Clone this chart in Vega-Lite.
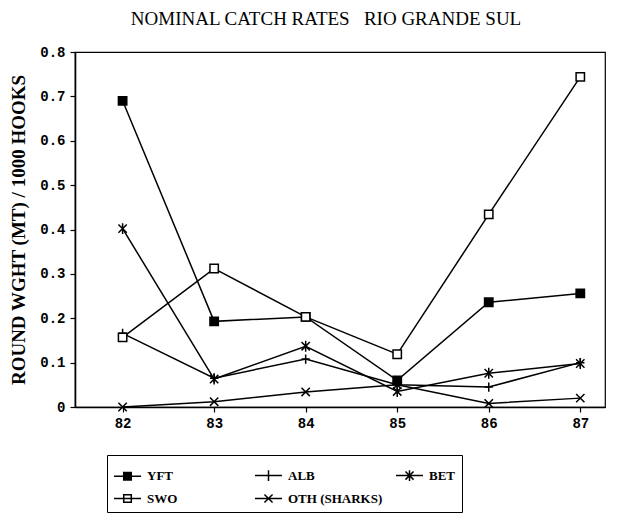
{
  "$schema": "https://vega.github.io/schema/vega-lite/v6.json",
  "autosize": "none",
  "width": 530,
  "height": 355,
  "padding": {"left": 75, "top": 52, "right": 19, "bottom": 117},
  "background": "white",
  "title": {
    "text": "NOMINAL CATCH RATES\u00a0\u00a0\u00a0RIO GRANDE SUL",
    "font": "Liberation Serif",
    "fontSize": 19,
    "fontWeight": "normal",
    "color": "black",
    "offset": 16,
    "dx": -14,
    "anchor": "middle"
  },
  "config": {
    "view": {"stroke": "black", "strokeWidth": 1.2},
    "axis": {
      "domainColor": "black",
      "domainWidth": 1.6,
      "tickColor": "black",
      "tickWidth": 1.2,
      "tickSize": 5,
      "grid": false,
      "labelFont": "Liberation Mono",
      "labelFontWeight": "bold",
      "labelFontSize": 14,
      "labelColor": "black",
      "titleFont": "Liberation Serif",
      "titleFontWeight": "bold",
      "titleFontSize": 19,
      "titleColor": "black"
    }
  },
  "data": {
    "values": [
      {"year": 82, "series": "YFT", "value": 0.69},
      {"year": 83, "series": "YFT", "value": 0.193},
      {"year": 84, "series": "YFT", "value": 0.203},
      {"year": 85, "series": "YFT", "value": 0.06},
      {"year": 86, "series": "YFT", "value": 0.236},
      {"year": 87, "series": "YFT", "value": 0.256},
      {"year": 82, "series": "ALB", "value": 0.166},
      {"year": 83, "series": "ALB", "value": 0.065},
      {"year": 84, "series": "ALB", "value": 0.108},
      {"year": 85, "series": "ALB", "value": 0.05},
      {"year": 86, "series": "ALB", "value": 0.045},
      {"year": 87, "series": "ALB", "value": 0.1},
      {"year": 82, "series": "BET", "value": 0.402},
      {"year": 83, "series": "BET", "value": 0.063},
      {"year": 84, "series": "BET", "value": 0.137},
      {"year": 85, "series": "BET", "value": 0.035},
      {"year": 86, "series": "BET", "value": 0.076},
      {"year": 87, "series": "BET", "value": 0.098},
      {"year": 82, "series": "SWO", "value": 0.157},
      {"year": 83, "series": "SWO", "value": 0.312},
      {"year": 84, "series": "SWO", "value": 0.203},
      {"year": 85, "series": "SWO", "value": 0.119},
      {"year": 86, "series": "SWO", "value": 0.434},
      {"year": 87, "series": "SWO", "value": 0.744},
      {"year": 82, "series": "OTH (SHARKS)", "value": 0.0},
      {"year": 83, "series": "OTH (SHARKS)", "value": 0.012},
      {"year": 84, "series": "OTH (SHARKS)", "value": 0.034},
      {"year": 85, "series": "OTH (SHARKS)", "value": 0.05},
      {"year": 86, "series": "OTH (SHARKS)", "value": 0.008},
      {"year": 87, "series": "OTH (SHARKS)", "value": 0.02}
    ]
  },
  "encoding": {
    "x": {
      "field": "year",
      "type": "quantitative",
      "scale": {"domain": [81.48, 87.27], "nice": false, "zero": false},
      "axis": {"values": [82, 83, 84, 85, 86, 87], "format": "d", "title": null, "labelPadding": 4}
    },
    "y": {
      "field": "value",
      "type": "quantitative",
      "scale": {"domain": [0, 0.8], "nice": false},
      "axis": {
        "values": [0, 0.1, 0.2, 0.3, 0.4, 0.5, 0.6, 0.7, 0.8],
        "labelExpr": "datum.value == 0 ? '0' : format(datum.value, '.1f')",
        "title": "ROUND WGHT (MT) / 1000 HOOKS",
        "titlePadding": 11,
        "labelPadding": 5
      }
    }
  },
  "layer": [
    {
      "mark": {"type": "line", "color": "black", "strokeWidth": 1.5},
      "encoding": {"detail": {"field": "series"}}
    },
    {
      "mark": {"type": "point", "filled": true, "stroke": "black", "strokeWidth": 1.5, "size": 70, "opacity": 1},
      "encoding": {
        "shape": {
          "field": "series",
          "scale": {
            "domain": ["YFT", "ALB", "BET", "SWO", "OTH (SHARKS)"],
            "range": [
              "M-1,-1H1V1H-1Z",
              "M-1,0H1M0,-1.1V1.1",
              "M-1,-1L1,1M-1,1L1,-1M0,-1.3V1.3",
              "M-1,-1H1V1H-1Z",
              "M-1,-1L1,1M-1,1L1,-1"
            ]
          },
          "legend": null
        },
        "fill": {
          "field": "series",
          "scale": {
            "domain": ["YFT", "ALB", "BET", "SWO", "OTH (SHARKS)"],
            "range": ["black", "black", "black", "white", "black"]
          },
          "legend": null
        }
      }
    },
    {
      "mark": {"type": "point", "filled": true, "strokeWidth": 1.5, "opacity": 0},
      "encoding": {
        "shape": {
          "field": "series",
          "scale": {
            "domain": ["YFT", "ALB", "BET", "SWO", "OTH (SHARKS)"],
            "range": [
              "M-1,0H1M-0.28,-0.28H0.28V0.28H-0.28Z",
              "M-1,0H1M0,-0.4V0.4",
              "M-1,0H1M-0.3,-0.3L0.3,0.3M-0.3,0.3L0.3,-0.3M0,-0.4V0.4",
              "M-1,0H1M-0.28,-0.28H0.28V0.28H-0.28Z",
              "M-1,0H1M-0.3,-0.3L0.3,0.3M-0.3,0.3L0.3,-0.3"
            ]
          },
          "legend": {
            "title": null,
            "orient": "none",
            "legendX": 32,
            "legendY": 403,
            "direction": "horizontal",
            "columns": 3,
            "gridAlign": "all",
            "columnPadding": 10,
            "rowPadding": 0,
            "padding": 6,
            "strokeColor": "black",
            "symbolSize": 729,
            "symbolStrokeWidth": 1.5,
            "symbolFillColor": "black",
            "symbolStrokeColor": "black",
            "labelFont": "Liberation Serif",
            "labelFontWeight": "bold",
            "labelFontSize": 13,
            "labelColor": "black",
            "labelOffset": 5,
            "labelLimit": 200
          }
        },
        "fill": {
          "field": "series",
          "scale": {
            "domain": ["YFT", "ALB", "BET", "SWO", "OTH (SHARKS)"],
            "range": ["black", "black", "black", "white", "black"]
          },
          "legend": {
            "title": null,
            "orient": "none",
            "legendX": 32,
            "legendY": 403,
            "direction": "horizontal",
            "columns": 3,
            "gridAlign": "all",
            "columnPadding": 10,
            "rowPadding": 0,
            "padding": 6,
            "strokeColor": "black",
            "symbolSize": 729,
            "symbolStrokeWidth": 1.5,
            "symbolFillColor": "black",
            "symbolStrokeColor": "black",
            "labelFont": "Liberation Serif",
            "labelFontWeight": "bold",
            "labelFontSize": 13,
            "labelColor": "black",
            "labelOffset": 5,
            "labelLimit": 200
          }
        },
        "stroke": {
          "field": "series",
          "scale": {
            "domain": ["YFT", "ALB", "BET", "SWO", "OTH (SHARKS)"],
            "range": ["black", "black", "black", "black", "black"]
          },
          "legend": {
            "title": null,
            "orient": "none",
            "legendX": 32,
            "legendY": 403,
            "direction": "horizontal",
            "columns": 3,
            "gridAlign": "all",
            "columnPadding": 10,
            "rowPadding": 0,
            "padding": 6,
            "strokeColor": "black",
            "symbolSize": 729,
            "symbolStrokeWidth": 1.5,
            "symbolFillColor": "black",
            "symbolStrokeColor": "black",
            "labelFont": "Liberation Serif",
            "labelFontWeight": "bold",
            "labelFontSize": 13,
            "labelColor": "black",
            "labelOffset": 5,
            "labelLimit": 200
          }
        }
      }
    }
  ],
  "resolve": {"scale": {"shape": "independent", "fill": "independent", "stroke": "independent"}}
}
